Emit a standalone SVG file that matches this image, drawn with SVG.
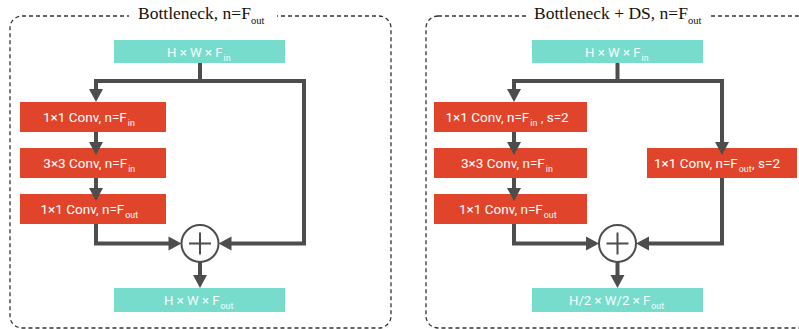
<svg xmlns="http://www.w3.org/2000/svg" width="799" height="329" viewBox="0 0 799 329">
<style>
.panel{fill:none;stroke:#333;stroke-width:1.3;stroke-dasharray:4 3}
.gap{fill:#fff}
.title{font-family:"Liberation Serif",serif;font-size:17.5px;fill:#111}
.tsub{font-size:10.5px}
.teal{fill:#78dccd}
.red{fill:#e0452c}
.lt{font-family:Roboto,"Liberation Sans",sans-serif;font-size:13.5px;fill:#fff}
.tt{font-family:Roboto,"Liberation Sans",sans-serif;font-size:13.2px;fill:#f2fffd}
.sub{font-size:8.8px}
.wire{fill:none;stroke:#4d4d4d;stroke-width:4;stroke-linejoin:miter}
.head{fill:#4d4d4d}
.sum{fill:#fff;stroke:#4d4d4d;stroke-width:2}
.plus{stroke:#4d4d4d;stroke-width:2}
</style>
<defs>
<path id="ad" d="M-7,-13 L7,-13 L0,0 Z"/>
<path id="ar" d="M-13,-7 L-13,7 L0,0 Z"/>
<path id="al" d="M13,-7 L13,7 L0,0 Z"/>
</defs>

<g id="panel-left">
<rect class="panel" x="10" y="16" width="381" height="312" rx="12"/>
<rect class="gap" x="129" y="8" width="148" height="16"/>
<text class="title" x="138" y="18.5">Bottleneck, n=F<tspan class="tsub" dy="5.5">out</tspan></text>
</g>
<g id="panel-right">
<rect class="panel" x="426" y="16" width="390" height="312" rx="12"/>
<rect class="gap" x="528" y="8" width="182" height="16"/>
<text class="title" x="534" y="18.5">Bottleneck + DS, n=F<tspan class="tsub" dy="5.5">out</tspan></text>
</g>

<g id="L-in"><rect class="teal" x="114" y="40" width="171" height="23"/>
<text class="tt" x="167" y="57">H × W × F<tspan class="sub" dx="1" dy="3.5">in</tspan></text></g>
<g id="L-conv1"><rect class="red" x="20" y="102" width="146" height="30"/>
<text class="lt" x="43" y="121.7">1×1 Conv, n=F<tspan class="sub" dx="1" dy="4">in</tspan></text></g>
<g id="L-conv2"><rect class="red" x="20" y="148" width="146" height="30"/>
<text class="lt" x="43.3" y="167.7">3×3 Conv, n=F<tspan class="sub" dx="1" dy="4">in</tspan></text></g>
<g id="L-conv3"><rect class="red" x="20" y="194" width="146" height="30"/>
<text class="lt" x="40.5" y="213.7">1×1 Conv, n=F<tspan class="sub" dx="1" dy="4">out</tspan></text></g>
<g id="L-out"><rect class="teal" x="114" y="288" width="171" height="24"/>
<text class="tt" x="164" y="305">H × W × F<tspan class="sub" dx="1" dy="3.5">out</tspan></text></g>

<g id="R-in"><rect class="teal" x="532" y="40" width="171" height="23"/>
<text class="tt" x="585" y="57">H × W × F<tspan class="sub" dx="1" dy="3.5">in</tspan></text></g>
<g id="R-conv1"><rect class="red" x="434" y="102" width="153" height="30"/>
<text class="lt" x="445.5" y="121.7">1×1 Conv, n=F<tspan class="sub" dx="1" dy="4">in</tspan><tspan dy="-4"> , s=2</tspan></text></g>
<g id="R-conv2"><rect class="red" x="434" y="148" width="153" height="30"/>
<text class="lt" x="461" y="167.7">3×3 Conv, n=F<tspan class="sub" dx="1" dy="4">in</tspan></text></g>
<g id="R-conv3"><rect class="red" x="434" y="194" width="153" height="30"/>
<text class="lt" x="459" y="213.7">1×1 Conv, n=F<tspan class="sub" dx="1" dy="4">out</tspan></text></g>
<g id="R-ds"><rect class="red" x="647" y="148" width="150" height="30"/>
<text class="lt" x="654" y="167.7">1×1 Conv, n=F<tspan class="sub" dx="1" dy="4">out</tspan><tspan dx="0.5" dy="-4">, s=2</tspan></text></g>
<g id="R-out"><rect class="teal" x="532" y="288" width="171" height="24"/>
<text class="tt" x="569" y="305">H/2 × W/2 × F<tspan class="sub" dx="1" dy="3.5">out</tspan></text></g>

<g id="connectors">
<path class="wire" d="M200,63 V81"/>
<path class="wire" d="M96,90 V81 H304 V243.5 H231"/>
<path class="wire" d="M96,132 V143"/>
<path class="wire" d="M96,178 V189"/>
<path class="wire" d="M96,224 V243.5 H169"/>
<path class="wire" d="M200,262 V276"/>
<use href="#ad" class="head" x="96" y="102"/>
<use href="#ad" class="head" x="96" y="155"/>
<use href="#ad" class="head" x="96" y="201"/>
<use href="#ar" class="head" x="181.5" y="243.5"/>
<use href="#al" class="head" x="218.5" y="243.5"/>
<use href="#ad" class="head" x="200" y="288"/>

<path class="wire" d="M617.5,63 V81"/>
<path class="wire" d="M514,90 V81 H722 V143"/>
<path class="wire" d="M514,132 V143"/>
<path class="wire" d="M514,178 V189"/>
<path class="wire" d="M514,224 V243.5 H587"/>
<path class="wire" d="M722,178 V243.5 H648"/>
<path class="wire" d="M617.5,262 V276"/>
<use href="#ad" class="head" x="514" y="102"/>
<use href="#ad" class="head" x="514" y="155"/>
<use href="#ad" class="head" x="514" y="201"/>
<use href="#ad" class="head" x="722" y="155"/>
<use href="#ar" class="head" x="599" y="243.5"/>
<use href="#al" class="head" x="636" y="243.5"/>
<use href="#ad" class="head" x="617.5" y="288"/>
</g>

<g id="L-sum">
<circle class="sum" cx="200" cy="243.5" r="18.5"/>
<path class="plus" d="M189,243.5 H211 M200,232.5 V254.5"/>
</g>
<g id="R-sum">
<circle class="sum" cx="617.5" cy="243.5" r="18.5"/>
<path class="plus" d="M606.5,243.5 H628.5 M617.5,232.5 V254.5"/>
</g>
</svg>
